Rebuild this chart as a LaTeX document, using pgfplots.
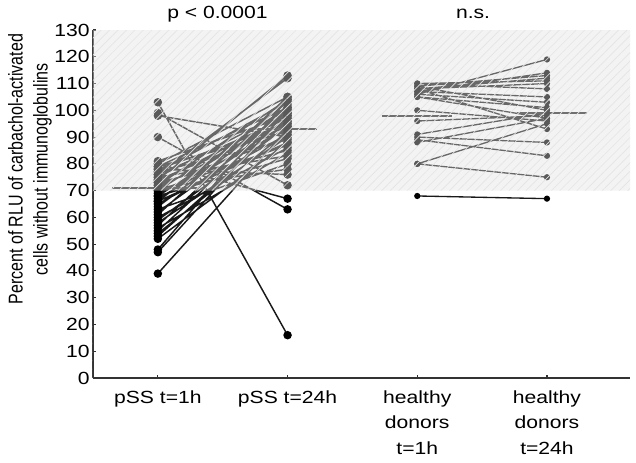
\documentclass[border=0pt]{standalone}
\usepackage{pgfplots}
\pgfplotsset{compat=1.18}
\usepackage{fontspec}
\setmainfont{Liberation Sans}[FakeStretch=1.2]
\newfontfamily\labelfont{Liberation Sans}
\usetikzlibrary{patterns.meta}
\pgfplotsset{
  layers/withcover/.define layer set={
    axis background,axis grid,axis ticks,axis lines,axis tick labels,main,axis descriptions,axis foreground,cover
  }{},
}
\begin{document}
\begin{tikzpicture}
\begin{axis}[
  set layers=withcover,
  scale only axis,
  width=402.75pt, height=261pt,
  xmin=0.5, xmax=4.64,
  ymin=0, ymax=130,
  axis x line*=bottom, axis y line*=left,
  tick align=inside,
  major tick length=2.4pt,
  xtick={1,2,3,4},
  xticklabels={{pSS t=1h},{pSS t=24h},{healthy\\donors\\t=1h},{healthy\\donors\\t=24h}},
  ytick={0,10,...,130},
  xticklabel style={align=center, font=\fontsize{13.2pt}{19pt}\selectfont, yshift=-6pt},
  yticklabel style={font=\fontsize{13.2pt}{15pt}\selectfont, xshift=1pt},
  /pgf/number format/assume math mode=true,
  ylabel={\scalebox{1}[1.25]{\labelfont\fontsize{12pt}{15pt}\selectfont\begin{tabular}{@{}c@{}}Percent of RLU of carbachol-activated\\cells without immunoglobulins\end{tabular}}},
  ylabel style={at={(ticklabel cs:0.60,-4pt)}, inner sep=0pt},
  axis line style={black!80, line width=0.8pt},
  tick style={black!80, line width=0.8pt},
  clip=false,
  unbounded coords=jump,
]
% pSS patients
\addplot[black!90, line width=1.1pt, mark=*, mark size=2.6pt, mark options={fill=black, draw=black}] coordinates {
(1,39)(2,93)(1.5,nan)
(1,47)(2,100)(1.5,nan)
(1,48)(2,104)(1.5,nan)
(1,52)(2,88)(1.5,nan)
(1,53)(2,96)(1.5,nan)
(1,54)(2,92)(1.5,nan)
(1,55)(2,99)(1.5,nan)
(1,56)(2,84)(1.5,nan)
(1,57)(2,102)(1.5,nan)
(1,58)(2,90)(1.5,nan)
(1,59)(2,94)(1.5,nan)
(1,60)(2,86)(1.5,nan)
(1,61)(2,105)(1.5,nan)
(1,62)(2,97)(1.5,nan)
(1,63)(2,80)(1.5,nan)
(1,64)(2,100)(1.5,nan)
(1,65)(2,91)(1.5,nan)
(1,66)(2,88)(1.5,nan)
(1,66)(2,103)(1.5,nan)
(1,67)(2,95)(1.5,nan)
(1,68)(2,82)(1.5,nan)
(1,68)(2,99)(1.5,nan)
(1,69)(2,93)(1.5,nan)
(1,70)(2,87)(1.5,nan)
(1,70)(2,101)(1.5,nan)
(1,71)(2,96)(1.5,nan)
(1,71)(2,78)(1.5,nan)
(1,72)(2,104)(1.5,nan)
(1,72)(2,90)(1.5,nan)
(1,73)(2,98)(1.5,nan)
(1,73)(2,85)(1.5,nan)
(1,74)(2,113)(1.5,nan)
(1,74)(2,94)(1.5,nan)
(1,75)(2,100)(1.5,nan)
(1,75)(2,83)(1.5,nan)
(1,76)(2,112)(1.5,nan)
(1,76)(2,97)(1.5,nan)
(1,77)(2,89)(1.5,nan)
(1,77)(2,103)(1.5,nan)
(1,78)(2,95)(1.5,nan)
(1,78)(2,76)(1.5,nan)
(1,79)(2,101)(1.5,nan)
(1,79)(2,92)(1.5,nan)
(1,80)(2,67)(1.5,nan)
(1,80)(2,105)(1.5,nan)
(1,81)(2,98)(1.5,nan)
(1,90)(2,63)(1.5,nan)
(1,98)(2,90)(1.5,nan)
(1,99)(2,72)(1.5,nan)
(1,103)(2,16)
};
% healthy donors
\addplot[black!90, line width=1pt, mark=*, mark size=1.8pt, mark options={fill=black, draw=black}] coordinates {
(3,68)(4,67)(3.5,nan)
(3,80)(4,75)(3.5,nan)
(3,80)(4,95)(3.5,nan)
(3,89)(4,83)(3.5,nan)
(3,90)(4,88)(3.5,nan)
(3,88)(4,97)(3.5,nan)
(3,91)(4,99)(3.5,nan)
(3,96)(4,98)(3.5,nan)
(3,100)(4,96)(3.5,nan)
(3,105)(4,101)(3.5,nan)
(3,106)(4,119)(3.5,nan)
(3,107)(4,114)(3.5,nan)
(3,108)(4,112)(3.5,nan)
(3,108)(4,110)(3.5,nan)
(3,109)(4,113)(3.5,nan)
(3,110)(4,108)(3.5,nan)
(3,107)(4,105)(3.5,nan)
(3,106)(4,103)(3.5,nan)
(3,109)(4,100)(3.5,nan)
(3,105)(4,97)(3.5,nan)
(3,108)(4,93)(3.5,nan)
(3,110)(4,111)
};
% group medians
\addplot[black!85, line width=1.3pt, mark=none] coordinates {(0.65,71)(1.3,71)};
\addplot[black!85, line width=1.3pt, mark=none] coordinates {(1.73,93)(2.23,93)};
\addplot[black!85, line width=1.3pt, mark=none] coordinates {(2.73,98)(3.27,98)};
\addplot[black!85, line width=1.3pt, mark=none] coordinates {(3.77,99)(4.31,99)};
% reference range overlay
\addplot[on layer=cover, draw=none, fill=white!88!black, fill opacity=0.4, mark=none] coordinates {(0.5,70)(4.64,70)(4.64,130)(0.5,130)} \closedcycle;
\addplot[on layer=cover, draw=none, pattern={Lines[angle=45,distance=4.5pt,line width=0.5pt]}, pattern color=white!90!black, fill opacity=0.35, mark=none] coordinates {(0.5,70)(4.64,70)(4.64,130)(0.5,130)} \closedcycle;
\node[anchor=base, font=\fontsize{13.2pt}{15pt}\selectfont] at (axis cs:1.46,130) [yshift=9pt] {p < 0.0001};
\node[anchor=base, font=\fontsize{13.2pt}{15pt}\selectfont] at (axis cs:3.43,130) [yshift=9pt] {n.s.};
\end{axis}
\path (current axis.south west) ++(-69.75pt,-63pt) rectangle ++(477pt,346.5pt);
\end{tikzpicture}
\end{document}
